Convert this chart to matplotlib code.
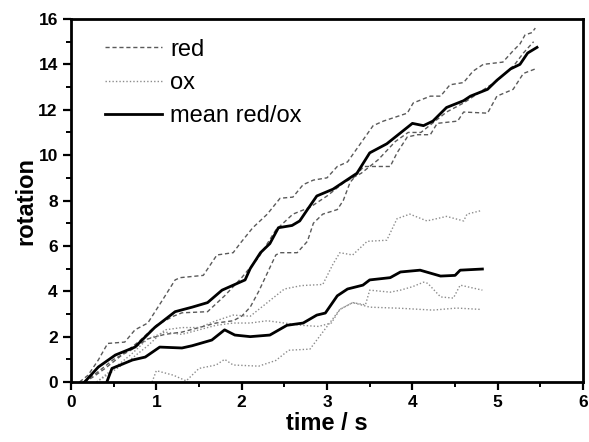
import matplotlib
matplotlib.use("Agg")
import matplotlib.pyplot as plt
from matplotlib.ticker import MultipleLocator

plt.rcParams["font.family"] = ["Liberation Sans", "DejaVu Sans"]

# red curves (dashed) - time / rotation
red1_t = [0.1, 0.2, 0.32, 0.43, 0.63, 0.75, 0.9, 1.07, 1.22, 1.28, 1.55, 1.71, 1.9, 1.98, 2.13, 2.3, 2.45,
          2.6, 2.72, 2.84, 3.0, 3.12, 3.24, 3.39, 3.54, 3.66, 3.94, 4.01, 4.21, 4.33, 4.44, 4.6, 4.71, 4.83,
          5.06, 5.18, 5.26, 5.32, 5.4, 5.44]
red1_y = [0.0, 0.3, 0.97, 1.7, 1.76, 2.3, 2.6, 3.6, 4.5, 4.6, 4.7, 5.6, 5.7, 6.1, 6.8, 7.4, 8.1,
          8.15, 8.7, 8.9, 9.0, 9.5, 9.7, 10.5, 11.3, 11.5, 11.85, 12.3, 12.6, 12.6, 13.1, 13.2, 13.7, 14.0,
          14.1, 14.6, 14.9, 15.3, 15.4, 15.6]

red2_t = [0.15, 0.25, 0.4, 0.6, 0.8, 1.0, 1.2, 1.3, 1.6, 1.8, 2.0, 2.2, 2.4, 2.6, 2.8, 3.0, 3.2, 3.4,
          3.6, 3.8, 3.95, 4.1, 4.2, 4.4, 4.6, 4.8, 5.0, 5.2, 5.3, 5.42]
red2_y = [0.0, 0.2, 0.6, 1.2, 1.8, 2.5, 2.9, 3.05, 3.1, 3.8, 4.6, 5.5, 6.7, 7.4, 7.7, 8.2, 8.8, 9.2,
          9.8, 10.6, 11.0, 11.0, 11.3, 11.9, 12.3, 12.8, 13.3, 14.0, 14.5, 15.0]

red3_t = [0.15, 0.3, 0.5, 0.7, 0.9, 1.1, 1.3, 1.5, 1.7, 1.9, 2.0, 2.1, 2.2, 2.3, 2.4, 2.45, 2.65, 2.77,
          2.84, 2.95, 3.12, 3.19, 3.27, 3.43, 3.74, 3.82, 3.94, 4.06, 4.21, 4.29, 4.53, 4.6, 4.88, 4.99,
          5.18, 5.3, 5.44]
red3_y = [0.0, 0.4, 1.0, 1.4, 1.9, 2.1, 2.2, 2.4, 2.6, 2.7, 2.9, 3.3, 4.0, 4.8, 5.6, 5.7, 5.7, 6.2,
          7.0, 7.4, 7.6, 8.0, 8.8, 9.5, 9.5, 10.1, 10.8, 10.9, 10.9, 11.4, 11.5, 11.9, 11.85, 12.6,
          12.9, 13.6, 13.8]

# ox curves (dotted)
ox1_t = [0.3, 0.5, 0.7, 0.9, 1.1, 1.3, 1.5, 1.7, 1.9, 2.1, 2.3, 2.5, 2.7, 2.95, 3.07, 3.15, 3.3, 3.47,
         3.7, 3.82, 3.97, 4.17, 4.4, 4.6, 4.64, 4.8]
ox1_y = [0.0, 0.5, 1.0, 1.6, 2.3, 2.4, 2.4, 2.7, 2.95, 2.9, 3.5, 4.1, 4.25, 4.3, 5.2, 5.7, 5.6, 6.2,
         6.25, 7.2, 7.4, 7.1, 7.3, 7.1, 7.4, 7.55]

ox2_t = [0.3, 0.5, 0.7, 0.9, 1.1, 1.3, 1.5, 1.7, 1.9, 2.1, 2.3, 2.5, 2.7, 2.9, 3.05, 3.15, 3.3, 3.45,
         3.5, 3.74, 3.86, 4.0, 4.13, 4.18, 4.33, 4.48, 4.56, 4.82]
ox2_y = [0.0, 0.6, 1.2, 1.9, 2.2, 2.1, 2.3, 2.5, 2.6, 2.6, 2.7, 2.6, 2.5, 2.45, 2.6, 3.2, 3.5, 3.4,
         4.05, 3.96, 4.05, 4.2, 4.4, 4.35, 3.75, 3.7, 4.27, 4.05]

ox3_t = [0.95, 1.0, 1.2, 1.35, 1.5, 1.7, 1.8, 1.9, 2.2, 2.4, 2.55, 2.8, 2.95, 3.05, 3.15, 3.3, 3.5,
         3.86, 4.24, 4.52, 4.8]
ox3_y = [0.0, 0.5, 0.3, 0.05, 0.6, 0.75, 1.0, 0.75, 0.7, 0.95, 1.4, 1.45, 2.2, 2.7, 3.2, 3.5, 3.3,
         3.25, 3.17, 3.26, 3.2]

# means (solid)
mred_t = [0.16, 0.32, 0.52, 0.75, 0.98, 1.22, 1.42, 1.6, 1.77, 1.86, 2.04, 2.1, 2.22, 2.33, 2.43, 2.59,
          2.68, 2.77, 2.88, 3.07, 3.19, 3.35, 3.5, 3.7, 4.0, 4.13, 4.24, 4.4, 4.6, 4.68, 4.88, 4.99,
          5.15, 5.26, 5.35, 5.46]
mred_y = [0.0, 0.66, 1.19, 1.54, 2.4, 3.1, 3.3, 3.5, 4.05, 4.2, 4.5, 5.0, 5.7, 6.1, 6.8, 6.9,
          7.1, 7.6, 8.2, 8.5, 8.8, 9.2, 10.1, 10.5, 11.4, 11.3, 11.5, 12.1, 12.4, 12.6, 12.9, 13.3,
          13.8, 14.0, 14.5, 14.75]

mox_t = [0.42, 0.48, 0.72, 0.87, 1.04, 1.3, 1.42, 1.65, 1.8, 1.92, 2.1, 2.33, 2.53, 2.72, 2.88, 2.98,
         3.12, 3.24, 3.42, 3.5, 3.74, 3.86, 4.09, 4.33, 4.5, 4.56, 4.82]
mox_y = [0.0, 0.6, 0.97, 1.1, 1.54, 1.5, 1.6, 1.85, 2.3, 2.07, 2.0, 2.07, 2.5, 2.6, 2.95, 3.04,
         3.8, 4.1, 4.27, 4.5, 4.6, 4.85, 4.93, 4.67, 4.7, 4.93, 4.98]

fig = plt.figure(figsize=(5.89, 4.42), dpi=100)
ax = fig.add_axes([0.1205, 0.1357, 0.8695, 0.8213])

red_kw = dict(color="#5a5a5a", lw=1.0, ls=(0, (3, 2)))
ox_kw = dict(color="#8c8c8c", lw=1.0, ls=(0, (1, 1.5)))

ax.plot(red1_t, red1_y, label="red", **red_kw)
ax.plot(red2_t, red2_y, **red_kw)
ax.plot(red3_t, red3_y, **red_kw)
ax.plot(ox1_t, ox1_y, label="ox", **ox_kw)
ax.plot(ox2_t, ox2_y, **ox_kw)
ax.plot(ox3_t, ox3_y, **ox_kw)
ax.plot(mred_t, mred_y, color="black", lw=2.0, label="mean red/ox")
ax.plot(mox_t, mox_y, color="black", lw=2.0)

ax.set_xlim(0, 6)
ax.set_ylim(0, 16)
ax.xaxis.set_major_locator(MultipleLocator(1))
ax.xaxis.set_minor_locator(MultipleLocator(0.5))
ax.yaxis.set_major_locator(MultipleLocator(2))
ax.yaxis.set_minor_locator(MultipleLocator(1))
ax.tick_params(which="major", direction="out", length=6, width=1.6, labelsize=12.5)
ax.tick_params(which="minor", direction="out", length=3.5, width=1.4)
for lab in ax.get_xticklabels() + ax.get_yticklabels():
    lab.set_fontweight("bold")
for sp in ax.spines.values():
    sp.set_linewidth(2.0)

ax.set_xlabel("time / s", fontsize=17, fontweight="bold", labelpad=1)
ax.set_ylabel("rotation", fontsize=17, fontweight="bold", labelpad=1)

ax.legend(loc="upper left", frameon=False, fontsize=17, handlelength=2.4,
          handletextpad=0.35, labelspacing=0.48, borderaxespad=0.0,
          bbox_to_anchor=(0.048, 0.972))

fig.savefig("out.png", dpi=100)
